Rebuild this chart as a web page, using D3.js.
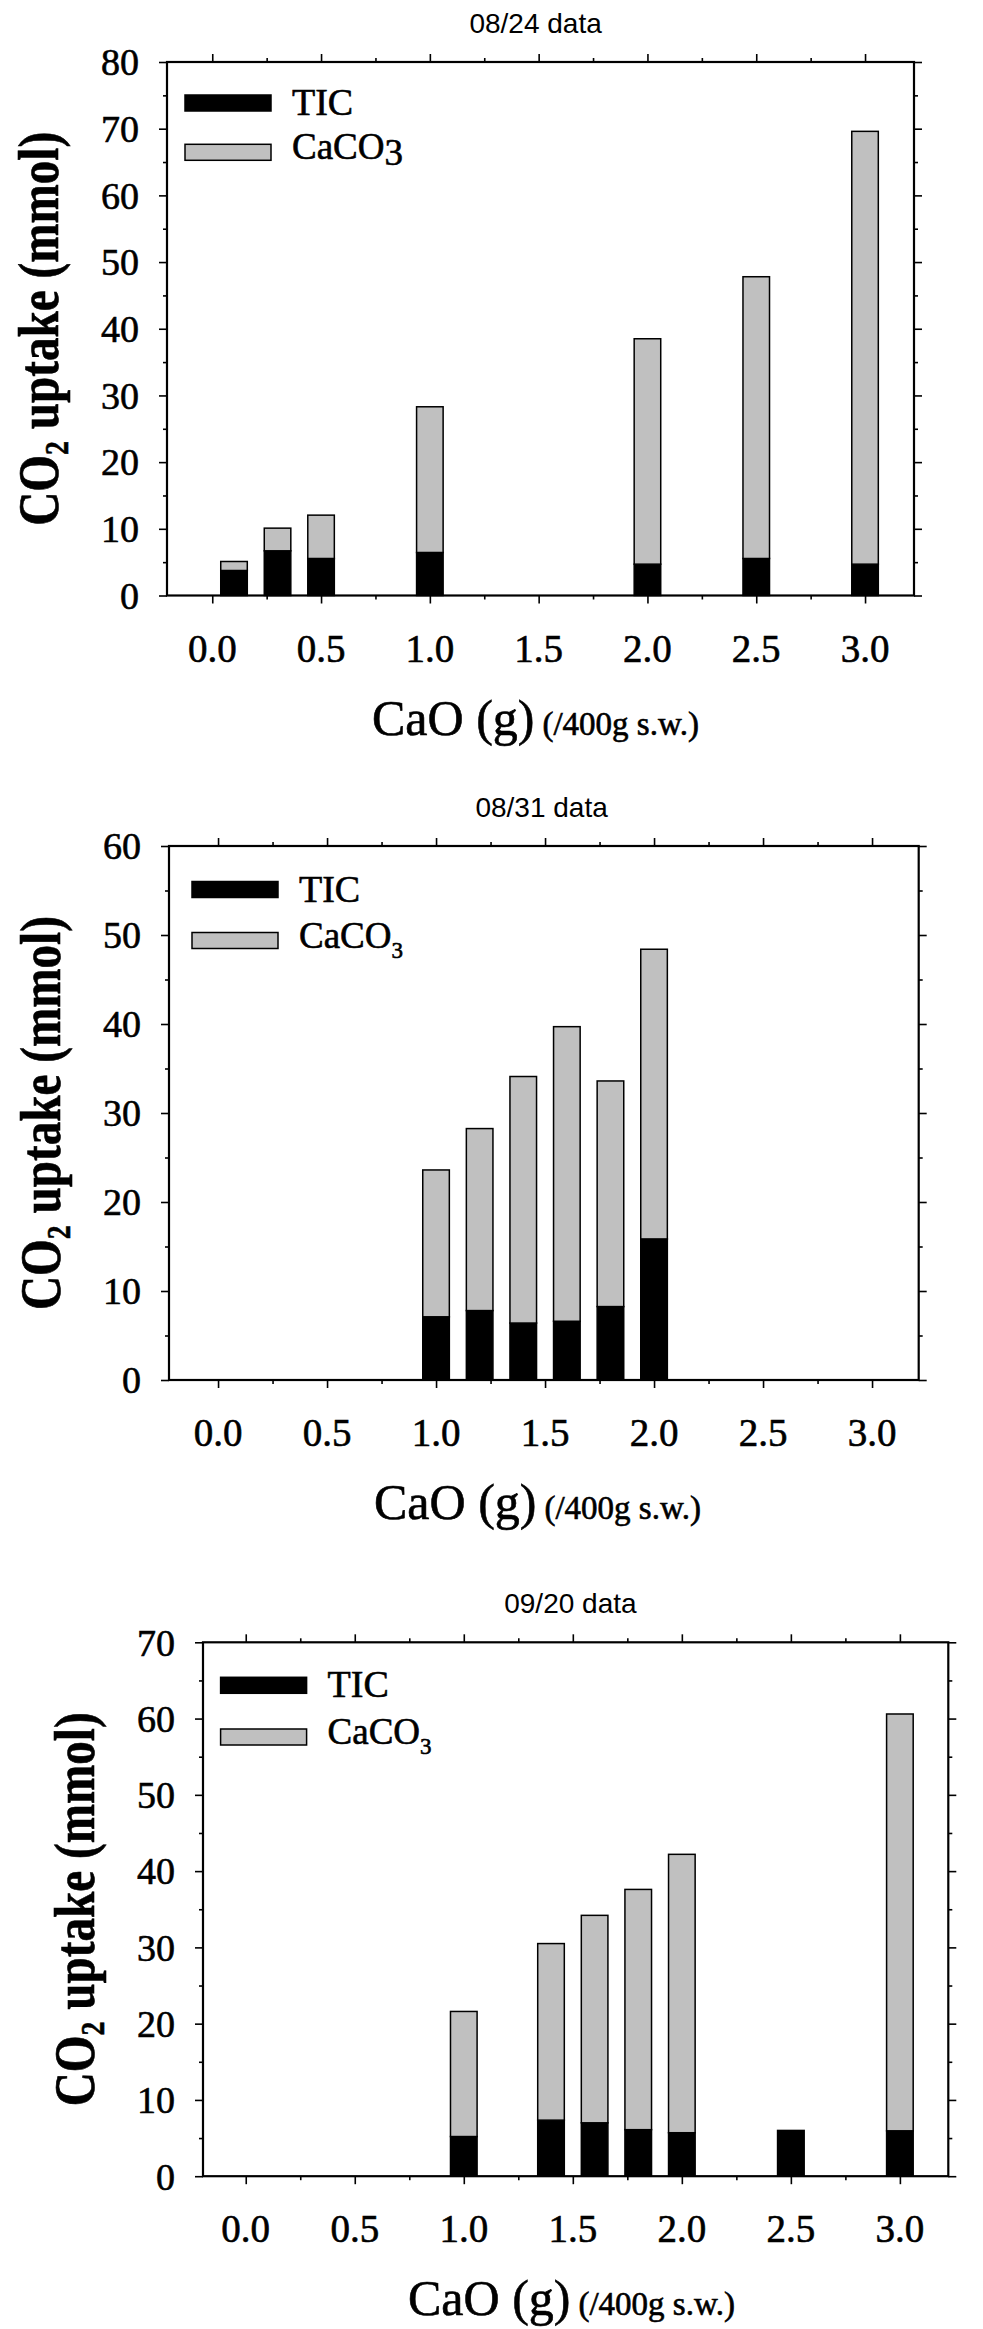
<!DOCTYPE html>
<html><head><meta charset="utf-8">
<script src="https://cdn.jsdelivr.net/npm/d3@7"></script>
<style>
body{margin:0;background:#fff} svg{display:block}
.serif{font-family:"Liberation Serif","Times New Roman",serif;fill:#000;stroke:#000;stroke-width:0.6px}
.sans{font-family:"Liberation Sans",Arial,sans-serif;fill:#000}
</style>
</head><body>
<svg id="c" width="983" height="2329"></svg>
<script>
// ---- data ----
const xTickValues = [0, 0.5, 1.0, 1.5, 2.0, 2.5, 3.0];
const xMinorTicks = [0.25, 0.75, 1.25, 1.75, 2.25, 2.75];
const legendLabels = ["TIC", "CaCO", "3"];
const titles = ["08/24 data", "08/31 data", "09/20 data"];

const dose1 = [0.1, 0.3, 0.5, 1.0, 2.0, 2.5, 3.0];
const tic1 = [3.75, 6.7, 5.55, 6.45, 4.7, 5.55, 4.7];
const caco3_1 = [1.35, 3.4, 6.5, 21.85, 33.8, 42.25, 64.9];
const yTicks1 = [0, 10, 20, 30, 40, 50, 60, 70, 80];
const yMinor1 = [5, 15, 25, 35, 45, 55, 65, 75];

const dose2 = [1.0, 1.2, 1.4, 1.6, 1.8, 2.0];
const tic2 = [7.1, 7.8, 6.4, 6.6, 8.25, 15.85];
const caco3_2 = [16.5, 20.45, 27.7, 33.1, 25.35, 32.55];
const yTicks2 = [0, 10, 20, 30, 40, 50, 60];
const yMinor2 = [5, 15, 25, 35, 45, 55];

const dose3 = [1.0, 1.4, 1.6, 1.8, 2.0, 2.5, 3.0];
const tic3 = [5.2, 7.35, 7.0, 6.1, 5.7, 6.0, 5.95];
const caco3_3 = [16.4, 23.15, 27.2, 31.5, 36.5, 0, 54.65];
const yTicks3 = [0, 10, 20, 30, 40, 50, 60, 70];
const yMinor3 = [5, 15, 25, 35, 45, 55, 65];

const barWidth = 0.122;

// ---- layout ----
const panels = [
  {title: titles[0], dose: dose1, tic: tic1, caco3: caco3_1, yTicks: yTicks1, yMinor: yMinor1,
   left: 167, right: 914, top: 62, bottom: 595.5, xMin: -0.208, xMax: 3.225, yMax: 80,
   titleX: 535.6, legDx: 18, legDy: 33, legGap: 49.3, sub: false},
  {title: titles[1], dose: dose2, tic: tic2, caco3: caco3_2, yTicks: yTicks2, yMinor: yMinor2,
   left: 169, right: 918.7, top: 846, bottom: 1380, xMin: -0.225, xMax: 3.214, yMax: 60,
   titleX: 541.6, legDx: 23, legDy: 35.5, legGap: 51, sub: true},
  {title: titles[2], dose: dose3, tic: tic3, caco3: caco3_3, yTicks: yTicks3, yMinor: yMinor3,
   left: 203, right: 948.3, top: 1642.3, bottom: 2176.2, xMin: -0.196, xMax: 3.222, yMax: 70,
   titleX: 570.4, legDx: 17.6, legDy: 35, legGap: 51.7, sub: true}
];

const svg = d3.select("#c");

function ticksOnly(sel) {
  sel.select(".domain").remove();
  sel.selectAll("text").remove();
  sel.selectAll("line").attr("stroke", "#000").attr("stroke-width", 1.6);
}

function drawPanel(p) {
  const g = svg.append("g");
  const x = d3.scaleLinear().domain([p.xMin, p.xMax]).range([p.left, p.right]);
  const y = d3.scaleLinear().domain([0, p.yMax]).range([p.bottom, p.top]);
  const bw = x(barWidth) - x(0);
  const idx = d3.range(p.dose.length);

  // bars: TIC (black) bottom, CaCO3 (gray) stacked
  g.selectAll("rect.tic").data(idx).join("rect").attr("class", "tic")
    .attr("x", i => x(p.dose[i]) - bw / 2).attr("width", bw)
    .attr("y", i => y(p.tic[i])).attr("height", i => y(0) - y(p.tic[i]))
    .attr("fill", "#000").attr("stroke", "#000").attr("stroke-width", 1.5);
  g.selectAll("rect.cc").data(idx.filter(i => p.caco3[i] > 0)).join("rect").attr("class", "cc")
    .attr("x", i => x(p.dose[i]) - bw / 2).attr("width", bw)
    .attr("y", i => y(p.tic[i] + p.caco3[i])).attr("height", i => y(p.tic[i]) - y(p.tic[i] + p.caco3[i]))
    .attr("fill", "#c0c0c0").attr("stroke", "#000").attr("stroke-width", 1.5);

  // tick marks (outward on all four sides)
  const tk = (gen, t) => g.append("g").attr("transform", t).call(gen).call(ticksOnly);
  tk(d3.axisBottom(x).tickValues(xTickValues).tickSize(8), `translate(0,${p.bottom})`);
  tk(d3.axisBottom(x).tickValues(xMinorTicks).tickSize(4), `translate(0,${p.bottom})`);
  tk(d3.axisTop(x).tickValues(xTickValues).tickSize(8), `translate(0,${p.top})`);
  tk(d3.axisTop(x).tickValues(xMinorTicks).tickSize(4), `translate(0,${p.top})`);
  tk(d3.axisLeft(y).tickValues(p.yTicks).tickSize(8), `translate(${p.left},0)`);
  tk(d3.axisLeft(y).tickValues(p.yMinor).tickSize(4), `translate(${p.left},0)`);
  tk(d3.axisRight(y).tickValues(p.yTicks).tickSize(8), `translate(${p.right},0)`);
  tk(d3.axisRight(y).tickValues(p.yMinor).tickSize(4), `translate(${p.right},0)`);

  // tick labels
  const fx = d3.format(".1f");
  g.selectAll("text.xl").data(xTickValues).join("text").attr("class", "xl serif")
    .attr("x", d => x(d)).attr("y", p.bottom + 66).attr("text-anchor", "middle")
    .attr("font-size", 39).text(d => fx(d));
  g.selectAll("text.yl").data(p.yTicks).join("text").attr("class", "yl serif")
    .attr("x", p.left - 28).attr("y", d => y(d)).attr("dy", "0.35em").attr("text-anchor", "end")
    .attr("font-size", 38).text(d => d);

  // frame
  g.append("rect").attr("x", p.left).attr("y", p.top)
    .attr("width", p.right - p.left).attr("height", p.bottom - p.top)
    .attr("fill", "none").attr("stroke", "#000").attr("stroke-width", 2.2);

  // title
  g.append("text").attr("class", "sans").attr("x", p.titleX).attr("y", p.top - 29.5)
    .attr("text-anchor", "middle").attr("font-size", 28).text(p.title);

  // legend
  const lx = p.left + p.legDx, ly = p.top + p.legDy;
  g.append("rect").attr("x", lx).attr("y", ly).attr("width", 86).attr("height", 16)
    .attr("fill", "#000").attr("stroke", "#000").attr("stroke-width", 1.5);
  g.append("rect").attr("x", lx).attr("y", ly + p.legGap).attr("width", 86).attr("height", 16)
    .attr("fill", "#c0c0c0").attr("stroke", "#000").attr("stroke-width", 1.5);
  g.append("text").attr("class", "serif").attr("x", lx + 107).attr("y", ly + 20)
    .attr("font-size", 38).text(legendLabels[0]);
  const t2 = g.append("text").attr("class", "serif").attr("x", lx + 107).attr("y", ly + p.legGap + 15)
    .attr("font-size", 37);
  t2.append("tspan").text(legendLabels[1]);
  if (p.sub) {
    t2.append("tspan").attr("font-size", 23).attr("dy", 10).text(legendLabels[2]);
  } else {
    t2.append("tspan").attr("dy", 6).text(legendLabels[2]);
  }

  // y-axis title (rotated, bold)
  const cy = (p.top + p.bottom) / 2;
  const yt = g.append("text").attr("class", "serif").attr("text-anchor", "middle")
    .attr("font-weight", "bold").attr("font-size", 58);
  yt.append("tspan").text("CO");
  yt.append("tspan").attr("font-size", 34).attr("dy", 10).text("2");
  yt.append("tspan").attr("dy", -10).text(" uptake (mmol)");
  const natural = yt.node().getBBox().width;
  const sx = 394 / natural;
  yt.attr("transform", `translate(${p.left - 109},${cy}) rotate(-90) scale(${sx},1)`);

  // x-axis title
  const xt = g.append("text").attr("class", "serif").attr("x", p.left + 205).attr("y", p.bottom + 139);
  xt.append("tspan").attr("font-size", 50).text("CaO (g)");
  xt.append("tspan").attr("font-size", 33).attr("dx", 8).text("(/400g s.w.)");
}

panels.forEach(drawPanel);
</script>
</body></html>
